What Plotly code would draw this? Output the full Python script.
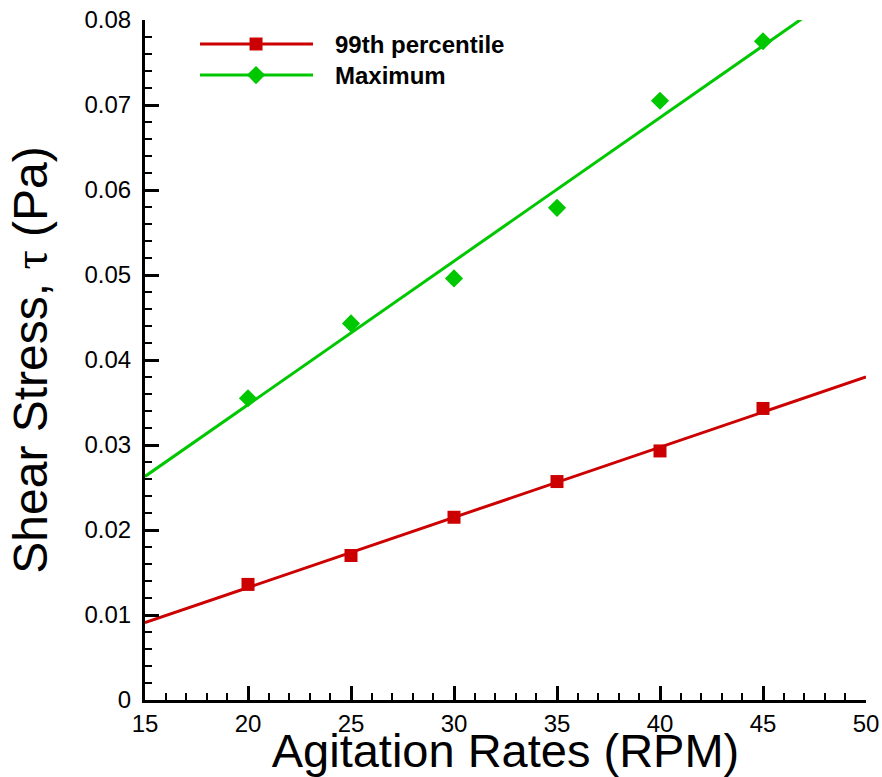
import plotly.graph_objects as go

# Agitation rate (RPM) and measured shear stress (Pa)
rpm = [20, 25, 30, 35, 40, 45]
p99 = [0.0136, 0.0170, 0.0215, 0.0257, 0.0293, 0.0343]
tau_max = [0.0355, 0.0443, 0.0496, 0.0579, 0.0705, 0.0775]

# Linear trend lines: end points at the axis limits
fit_rpm = [15, 50]
p99_fit = [0.0091, 0.0380]
max_fit = [0.0263, 0.0854]

series_names = ["99th percentile", "Maximum"]
red = "#CC0000"
green = "#00C800"
FONT = "Liberation Sans, Arial, sans-serif"

fig = go.Figure()

fig.add_trace(go.Scatter(x=fit_rpm, y=p99_fit, mode="lines",
                         line=dict(color=red, width=3), showlegend=False, hoverinfo="skip"))
fig.add_trace(go.Scatter(x=fit_rpm, y=max_fit, mode="lines",
                         line=dict(color=green, width=3), showlegend=False, hoverinfo="skip"))
fig.add_trace(go.Scatter(x=rpm, y=p99, mode="markers", name=series_names[0],
                         marker=dict(symbol="square", size=13, color=red), showlegend=False))
fig.add_trace(go.Scatter(x=rpm, y=tau_max, mode="markers", name=series_names[1],
                         marker=dict(symbol="diamond", size=14, color=green), showlegend=False))

# Legend drawn on an overlay axis spanning the plot area (0..1 in both directions)
leg_rows = [0.9647, 0.919]
leg_line = [0.0763, 0.233]
leg_mark = 0.154
leg_style = [(red, "square", 13), (green, "diamond", 14)]
for row, (col, sym, sz), name in zip(leg_rows, leg_style, series_names):
    fig.add_trace(go.Scatter(x=leg_line, y=[row, row], mode="lines", xaxis="x2", yaxis="y2",
                             line=dict(color=col, width=3), showlegend=False, hoverinfo="skip"))
    fig.add_trace(go.Scatter(x=[leg_mark], y=[row], mode="markers", xaxis="x2", yaxis="y2",
                             marker=dict(symbol=sym, size=sz, color=col),
                             showlegend=False, hoverinfo="skip"))
    fig.add_annotation(x=0.2607, y=row, xref="paper", yref="paper", xanchor="left",
                       yanchor="middle", showarrow=False, text="<b>%s</b>" % name,
                       font=dict(family=FONT, size=24, color="black"))

axis_common = dict(
    showgrid=False, zeroline=False, showline=True, linecolor="black", linewidth=3,
    ticks="inside", ticklen=14, tickwidth=2.5, tickcolor="black",
    tickfont=dict(family=FONT, size=24, color="black"),
    mirror=False, automargin=False,
)

fig.update_layout(
    width=882, height=777,
    margin=dict(l=145, r=16, t=20, b=77),
    paper_bgcolor="white", plot_bgcolor="white",
    showlegend=False,
    xaxis=dict(range=[15, 50], tick0=15, dtick=5,
               minor=dict(dtick=1, ticks="inside", ticklen=7, tickwidth=1.5, tickcolor="black"),
               title=dict(text="Agitation Rates (RPM)", standoff=2,
                          font=dict(family=FONT, size=47, color="black")),
               **axis_common),
    yaxis=dict(range=[0, 0.08], tick0=0, dtick=0.01,
               minor=dict(dtick=0.002, ticks="inside", ticklen=7, tickwidth=1.5, tickcolor="black"),
               title=dict(text="Shear Stress, <span style=\"font-family:'Liberation Serif'\">τ</span> (Pa)",
                          standoff=22,
                          font=dict(family=FONT, size=48, color="black")),
               ticklabelstandoff=6,
               **axis_common),
    xaxis2=dict(overlaying="x", range=[0, 1], visible=False),
    yaxis2=dict(overlaying="y", range=[0, 1], visible=False),
)

fig.write_html("out.html")
